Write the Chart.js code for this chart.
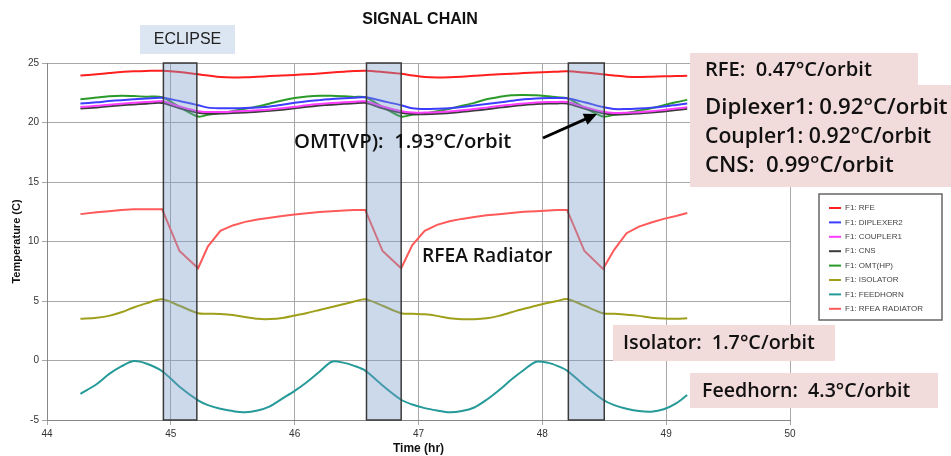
<!DOCTYPE html>
<html>
<head>
<meta charset="utf-8">
<title>Signal Chain</title>
<script src="https://cdn.jsdelivr.net/npm/chart.js@4.4.1/dist/chart.umd.min.js"></script>
<style>
    html, body { margin: 0; padding: 0; background: #fff; }
    #wrap { width: 951px; height: 456px; }
</style>
</head>
<body>
<div id="wrap"><canvas id="signalChain" width="951" height="456"></canvas></div>
<script>
// Data
var hours = [44.27, 44.4, 44.5, 44.6, 44.7, 44.8, 44.93,
    45.07, 45.22, 45.3, 45.4, 45.5, 45.6, 45.7, 45.8, 45.9, 46.0, 46.1, 46.2, 46.3, 46.4, 46.48, 46.57,
    46.71, 46.86, 46.95, 47.05, 47.15, 47.25, 47.35, 47.45, 47.55, 47.65, 47.75, 47.85, 47.95, 48.05, 48.12, 48.2,
    48.34, 48.49, 48.58, 48.68, 48.78, 48.88, 48.98, 49.08, 49.17];

var rfe = [23.95, 24.05, 24.15, 24.25, 24.3, 24.33, 24.35,
    24.25, 24.05, 23.95, 23.82, 23.78, 23.8, 23.85, 23.9, 23.95, 24.0, 24.05, 24.12, 24.2, 24.27, 24.32, 24.35,
    24.25, 24.1, 23.95, 23.82, 23.78, 23.8, 23.85, 23.92, 24.0, 24.05, 24.1, 24.15, 24.2, 24.25, 24.27, 24.3,
    24.2, 24.05, 23.95, 23.85, 23.82, 23.85, 23.88, 23.9, 23.93];

var diplexer2 = [21.6, 21.7, 21.8, 21.88, 21.95, 22.02, 22.08,
    21.8, 21.45, 21.25, 21.2, 21.2, 21.22, 21.27, 21.35, 21.5, 21.65, 21.78, 21.88, 21.97, 22.03, 22.08, 22.12,
    21.8, 21.45, 21.2, 21.13, 21.15, 21.2, 21.3, 21.42, 21.55, 21.68, 21.82, 21.95, 22.02, 22.05, 22.05, 22.03,
    21.7, 21.3, 21.13, 21.13, 21.18, 21.25, 21.35, 21.48, 21.6];

var coupler1 = [21.3, 21.4, 21.5, 21.58, 21.65, 21.72, 21.78,
    21.35, 20.95, 20.88, 20.88, 20.92, 20.97, 21.02, 21.1, 21.2, 21.32, 21.45, 21.55, 21.63, 21.7, 21.75, 21.78,
    21.35, 20.95, 20.85, 20.83, 20.87, 20.93, 21.02, 21.13, 21.25, 21.38, 21.5, 21.6, 21.68, 21.72, 21.73, 21.72,
    21.3, 20.9, 20.8, 20.82, 20.87, 20.95, 21.05, 21.17, 21.28];

var cns = [21.17, 21.27, 21.37, 21.45, 21.52, 21.58, 21.64,
    21.2, 20.82, 20.75, 20.75, 20.8, 20.85, 20.9, 20.98, 21.08, 21.2, 21.32, 21.42, 21.5, 21.57, 21.62, 21.65,
    21.2, 20.82, 20.72, 20.7, 20.74, 20.8, 20.9, 21.0, 21.12, 21.25, 21.37, 21.47, 21.55, 21.59, 21.6, 21.6,
    21.17, 20.78, 20.68, 20.7, 20.75, 20.83, 20.93, 21.05, 21.15];

var omtHp = [21.95, 22.1, 22.2, 22.25, 22.22, 22.17, 22.12,
    21.3, 20.5, 20.65, 20.8, 20.95, 21.15, 21.35, 21.6, 21.85, 22.05, 22.18, 22.25, 22.25, 22.2, 22.15, 22.12,
    21.3, 20.5, 20.65, 20.75, 20.95, 21.15, 21.4, 21.65, 21.95, 22.15, 22.3, 22.32, 22.3, 22.2, 22.12, 22.05,
    21.25, 20.5, 20.65, 20.8, 21.0, 21.2, 21.45, 21.7, 21.9];

var isolator = [3.5, 3.6, 3.75, 4.05, 4.45, 4.8, 5.15,
    4.6, 3.97, 3.93, 3.9, 3.82, 3.65, 3.5, 3.48, 3.57, 3.78, 4.0, 4.25, 4.5, 4.75, 4.95, 5.15,
    4.6, 3.97, 3.92, 3.88, 3.75, 3.55, 3.47, 3.47, 3.55, 3.75, 4.05, 4.35, 4.6, 4.85, 5.0, 5.17,
    4.6, 3.97, 3.92, 3.85, 3.75, 3.6, 3.52, 3.5, 3.55];

var feedhorn = [-2.8, -2.0, -1.15, -0.5, -0.05, -0.25, -0.9,
    -2.2, -3.35, -3.75, -4.05, -4.25, -4.35, -4.2, -3.85, -3.2, -2.55, -1.8, -0.95, -0.1, -0.2, -0.45, -0.85,
    -2.1, -3.3, -3.7, -4.0, -4.2, -4.35, -4.25, -3.95, -3.3, -2.5, -1.6, -0.8, -0.1, -0.2, -0.45, -0.85,
    -2.1, -3.3, -3.75, -4.05, -4.25, -4.3, -4.1, -3.6, -2.9];

var rfeaRadiator = [12.3, 12.45, 12.55, 12.65, 12.7, 12.7, 12.7,
    9.2, 7.75, 9.6, 10.9, 11.35, 11.65, 11.85, 12.0, 12.15, 12.27, 12.37, 12.47, 12.55, 12.6, 12.65, 12.65,
    9.2, 7.75, 9.7, 10.9, 11.4, 11.7, 11.9, 12.05, 12.2, 12.3, 12.4, 12.5, 12.55, 12.6, 12.65, 12.65,
    9.2, 7.7, 9.3, 10.7, 11.25, 11.6, 11.9, 12.15, 12.4];

var seriesNames = ["F1: RFE", "F1: DIPLEXER2", "F1: COUPLER1", "F1: CNS", "F1: OMT(HP)",
    "F1: ISOLATOR", "F1: FEEDHORN", "F1: RFEA RADIATOR"];
var seriesColors = ["#ff1f1f", "#3d3dff", "#ff3dff", "#3b3b3b", "#2a9a2a", "#9f9f1a", "#259a99", "#ff5a5a"];

// eclipse windows (hr)
var eclipseStart = [44.94, 46.58, 48.21];
var eclipseEnd = [45.21, 46.86, 48.5];

var xTicks = [44, 45, 46, 47, 48, 49, 50];
var yTicks = [-5, 0, 5, 10, 15, 20, 25];

var rateLabels = ["RFE:  0.47\u00b0C/orbit", "Diplexer1: 0.92\u00b0C/orbit", "Coupler1: 0.92\u00b0C/orbit",
    "CNS:  0.99\u00b0C/orbit", "OMT(VP):  1.93\u00b0C/orbit", "Isolator:  1.7\u00b0C/orbit",
    "Feedhorn:  4.3\u00b0C/orbit"];

function pts(vals) {
    return hours.map(function (h, i) { return { x: h, y: vals[i] }; });
}

var allSeries = [rfe, diplexer2, coupler1, cns, omtHp, isolator, feedhorn, rfeaRadiator];
var datasets = allSeries.map(function (s, i) {
    return {
        label: seriesNames[i],
        data: pts(s),
        borderColor: seriesColors[i],
        backgroundColor: seriesColors[i],
        borderWidth: 2,
        pointRadius: 0,
        fill: false,
        tension: i == 7 ? 0 : 0.3
    };
});

// write text so it spans a given width
function fitText(ctx, text, x, cy, width, weight, color) {
    ctx.font = weight + " 100px 'Open Sans'";
    var w = ctx.measureText(text).width;
    var size = 100 * width / w;
    ctx.font = weight + " " + size.toFixed(1) + "px 'Open Sans'";
    ctx.fillStyle = color || "#111";
    ctx.textAlign = "left";
    ctx.textBaseline = "middle";
    ctx.fillText(text, x, cy);
}

var overlay = {
    id: "overlay",
    afterDatasetsDraw: function (chart) {
        var ctx = chart.ctx, xs = chart.scales.x, a = chart.chartArea;
        ctx.save();
        for (var i = 0; i < eclipseStart.length; i++) {
            var x0 = xs.getPixelForValue(eclipseStart[i]);
            var x1 = xs.getPixelForValue(eclipseEnd[i]);
            ctx.fillStyle = "rgba(120,155,200,0.38)";
            ctx.fillRect(x0, a.top, x1 - x0, a.bottom - a.top);
            ctx.strokeStyle = "#3a3a3a";
            ctx.lineWidth = 1.5;
            ctx.strokeRect(x0, a.top, x1 - x0, a.bottom - a.top);
        }
        ctx.restore();
    },
    afterDraw: function (chart) {
        var ctx = chart.ctx;
        ctx.save();

        // title
        ctx.font = "bold 16px Arial";
        ctx.fillStyle = "#111";
        ctx.textAlign = "center";
        ctx.textBaseline = "middle";
        ctx.fillText("SIGNAL CHAIN", 420, 20);

        // eclipse label
        ctx.fillStyle = "#dce6f2";
        ctx.fillRect(140, 25, 95, 29);
        ctx.font = "16px Arial";
        ctx.fillStyle = "#222";
        ctx.fillText("ECLIPSE", 187.5, 40);

        // pink rate boxes
        ctx.fillStyle = "#f2dcdb";
        ctx.fillRect(690, 53, 228, 32);
        ctx.fillRect(690, 85, 261, 102);
        ctx.fillRect(613, 325, 222, 36);
        ctx.fillRect(690, 373, 248, 35);

        fitText(ctx, rateLabels[0], 705, 70, 167, "600");
        fitText(ctx, rateLabels[1], 705, 108, 243, "600");
        fitText(ctx, rateLabels[2], 705, 137, 226, "600");
        fitText(ctx, rateLabels[3], 705, 166, 189, "600");
        fitText(ctx, rateLabels[4], 294, 142, 218, "600");
        fitText(ctx, "RFEA Radiator", 422, 257, 130, "600");
        fitText(ctx, rateLabels[5], 623, 343, 192, "600");
        fitText(ctx, rateLabels[6], 702, 391, 208, "600");

        // arrow
        ctx.strokeStyle = "#000";
        ctx.fillStyle = "#000";
        ctx.lineWidth = 3;
        var ax0 = 543, ay0 = 138, ax1 = 597, ay1 = 114;
        var ang = Math.atan2(ay1 - ay0, ax1 - ax0);
        ctx.beginPath();
        ctx.moveTo(ax0, ay0);
        ctx.lineTo(ax1 - 9 * Math.cos(ang), ay1 - 9 * Math.sin(ang));
        ctx.stroke();
        ctx.beginPath();
        ctx.moveTo(ax1, ay1);
        ctx.lineTo(ax1 - 13 * Math.cos(ang) + 6 * Math.sin(ang), ay1 - 13 * Math.sin(ang) - 6 * Math.cos(ang));
        ctx.lineTo(ax1 - 13 * Math.cos(ang) - 6 * Math.sin(ang), ay1 - 13 * Math.sin(ang) + 6 * Math.cos(ang));
        ctx.closePath();
        ctx.fill();

        // legend box
        ctx.fillStyle = "#fff";
        ctx.fillRect(819, 194, 123, 126);
        ctx.strokeStyle = "#666";
        ctx.lineWidth = 1.5;
        ctx.strokeRect(819, 194, 123, 126);
        ctx.font = "8px Arial";
        ctx.textAlign = "left";
        chart.data.datasets.forEach(function (ds, i) {
            var y = 208 + i * 14.4;
            ctx.strokeStyle = ds.borderColor;
            ctx.lineWidth = 2;
            ctx.beginPath();
            ctx.moveTo(829, y);
            ctx.lineTo(841, y);
            ctx.stroke();
            ctx.fillStyle = "#444";
            ctx.fillText(ds.label, 845, y);
        });
        ctx.restore();
    }
};

new Chart(document.getElementById("signalChain"), {
    type: "line",
    data: { datasets: datasets },
    options: {
        responsive: false,
        animation: false,
        devicePixelRatio: 1,
        layout: { padding: { left: 0, top: 63, right: 161, bottom: 0 } },
        plugins: {
            legend: { display: false },
            title: { display: false },
            tooltip: { enabled: false }
        },
        scales: {
            x: {
                type: "linear",
                min: 44,
                max: 50,
                afterBuildTicks: function (s) { s.ticks = xTicks.map(function (v) { return { value: v }; }); },
                ticks: { font: { family: "Arial", size: 10 }, color: "#333", padding: 3, maxRotation: 0 },
                grid: { color: "#a8a8a8", lineWidth: 1, tickLength: 5 },
                border: { color: "#888" },
                title: {
                    display: true, text: "Time (hr)", color: "#111",
                    font: { family: "Arial", size: 12, weight: "bold" },
                    padding: { top: 0, bottom: 0 }
                },
                afterFit: function (s) { s.height = 36; }
            },
            y: {
                min: -5,
                max: 25,
                afterBuildTicks: function (s) { s.ticks = yTicks.map(function (v) { return { value: v }; }); },
                ticks: { font: { family: "Arial", size: 10 }, color: "#333", padding: 3 },
                grid: { color: "#a8a8a8", lineWidth: 1, tickLength: 5 },
                border: { color: "#888" },
                title: {
                    display: true, text: "Temperature (C)", color: "#111",
                    font: { family: "Arial", size: 11, weight: "bold" },
                    padding: { top: 10, bottom: 0 }
                },
                afterFit: function (s) { s.width = 47; }
            }
        }
    },
    plugins: [overlay]
});
</script>
</body>
</html>
